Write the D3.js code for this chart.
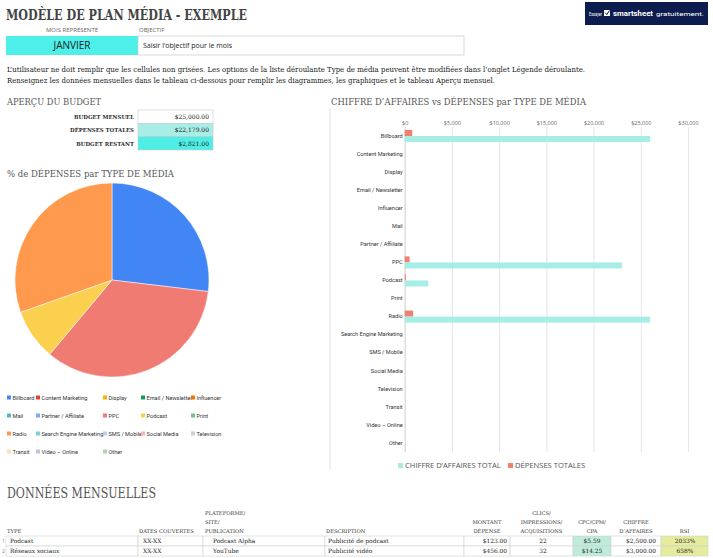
<!DOCTYPE html>
<html>
<head>
<meta charset="utf-8">
<script src="https://cdn.jsdelivr.net/npm/d3@7"></script>
<style>
  body { margin: 0; background: #fff; }
  svg { display: block; }
  .serif { font-family: "DejaVu Serif", "Liberation Serif", serif; }
  .sans { font-family: "Open Sans", "Noto Sans", sans-serif; }
  .small { font-family: Roboto, "Noto Sans", sans-serif; }
</style>
</head>
<body>
<svg id="page" width="713" height="558"></svg>
<script>
// ---- data ----
var mediaTypes = ["Billboard", "Content Marketing", "Display", "Email / Newsletter", "Influencer",
  "Mail", "Partner / Affiliate", "PPC", "Podcast", "Print", "Radio", "Search Engine Marketing",
  "SMS / Mobile", "Social Media", "Television", "Transit", "Video \u2013 Online", "Other"];
var mediaColors = ["#4285F4", "#DB4437", "#F4B400", "#0F9D58", "#FF6D01",
  "#46BDC6", "#7BAAF7", "#F07B72", "#FCD04F", "#71C287", "#FF994D", "#7ED1D7",
  "#B3CEFB", "#F7B4AE", "#CFCFCF", "#FDDCB8", "#B8C5E2", "#A9D6AE"];
var revenueTotal = [26000, 0, 0, 0, 0, 0, 0, 23000, 2500, 0, 26000, 0, 0, 0, 0, 0, 0, 0];
var spendTotal = [800, 0, 0, 0, 0, 0, 0, 520, 123, 0, 900, 0, 0, 0, 0, 0, 0, 0];
var pieTypes = ["Billboard", "PPC", "Podcast", "Radio"];
var pieShare = [26.9, 34.2, 8.5, 30.4];
var xTicks = [0, 5000, 10000, 15000, 20000, 25000, 30000];

var budgetLabels = ["BUDGET MENSUEL", "D\u00c9PENSES TOTALES", "BUDGET RESTANT"];
var budgetValues = ["$25,000.00", "$22,179.00", "$2,821.00"];
var budgetFills = ["#ffffff", "#A8EEE6", "#4DEEE6"];

var tableType = ["Podcast", "R\u00e9seaux sociaux"];
var tableDates = ["XX-XX", "XX-XX"];
var tablePlatform = ["Podcast Alpha", "YouTube"];
var tableDesc = ["Publicit\u00e9 de podcast", "Publicit\u00e9 vid\u00e9o"];
var tableSpent = ["$123.00", "$456.00"];
var tableClicks = ["22", "32"];
var tableCpc = ["$5.59", "$14.25"];
var tableRevenue = ["$2,500.00", "$3,000.00"];
var tableRoi = ["2033%", "658%"];

var svg = d3.select("#page");

// ---- header ----
svg.append("text").attr("class", "serif").attr("x", 6).attr("y", 20)
  .attr("font-size", 14).attr("font-weight", "bold").attr("fill", "#444")
  .attr("textLength", 241).attr("lengthAdjust", "spacingAndGlyphs")
  .text("MOD\u00c8LE DE PLAN M\u00c9DIA - EXEMPLE");

var logo = svg.append("g");
logo.append("rect").attr("x", 585).attr("y", 2).attr("width", 123).attr("height", 23).attr("fill", "#0C1C4E");
logo.append("text").attr("class", "small").attr("x", 589).attr("y", 15.5).attr("font-size", 5.5).attr("fill", "#fff")
  .attr("textLength", 13).attr("lengthAdjust", "spacingAndGlyphs").text("Essayer");
logo.append("rect").attr("x", 604).attr("y", 10).attr("width", 6).attr("height", 6).attr("fill", "#fff");
logo.append("path").attr("d", "M605.3,12.8 L606.8,14.6 L609.5,10.5").attr("stroke", "#0C1C4E").attr("stroke-width", 1).attr("fill", "none");
logo.append("text").attr("class", "small").attr("x", 613).attr("y", 16).attr("font-size", 8).attr("font-weight", "bold").attr("fill", "#fff")
  .attr("textLength", 40).attr("lengthAdjust", "spacingAndGlyphs").text("smartsheet");
logo.append("text").attr("class", "small").attr("x", 656).attr("y", 15.5).attr("font-size", 5.5).attr("fill", "#fff")
  .attr("textLength", 48).attr("lengthAdjust", "spacingAndGlyphs").text("gratuitement.");

svg.append("text").attr("class", "sans").attr("x", 72).attr("y", 32).attr("text-anchor", "middle")
  .attr("font-size", 6).attr("fill", "#666").text("MOIS REPR\u00c9SENT\u00c9");
svg.append("text").attr("class", "sans").attr("x", 139).attr("y", 32)
  .attr("font-size", 6).attr("fill", "#666").text("OBJECTIF");
svg.append("rect").attr("x", 6).attr("y", 36).attr("width", 132).attr("height", 19).attr("fill", "#4DF0E8");
svg.append("text").attr("class", "sans").attr("x", 72).attr("y", 49).attr("text-anchor", "middle")
  .attr("font-size", 10).attr("fill", "#222").text("JANVIER");
svg.append("rect").attr("x", 138).attr("y", 36).attr("width", 326).attr("height", 19)
  .attr("fill", "#fff").attr("stroke", "#c8c8c8").attr("stroke-width", 0.7);
svg.append("text").attr("class", "sans").attr("x", 143).attr("y", 48)
  .attr("font-size", 7).attr("fill", "#222").text("Saisir l\u2019objectif pour le mois");

svg.append("text").attr("class", "serif").attr("x", 7).attr("y", 72).attr("font-size", 8).attr("fill", "#222")
  .attr("textLength", 578).attr("lengthAdjust", "spacingAndGlyphs")
  .text("L\u2019utilisateur ne doit remplir que les cellules non gris\u00e9es. Les options de la liste d\u00e9roulante Type de m\u00e9dia peuvent \u00eatre modifi\u00e9es dans l\u2019onglet L\u00e9gende d\u00e9roulante.");
svg.append("text").attr("class", "serif").attr("x", 7).attr("y", 83).attr("font-size", 8).attr("fill", "#222")
  .attr("textLength", 488).attr("lengthAdjust", "spacingAndGlyphs")
  .text("Renseignez les donn\u00e9es mensuelles dans le tableau ci-dessous pour remplir les diagrammes, les graphiques et le tableau Aper\u00e7u mensuel.");

// ---- budget overview ----
svg.append("text").attr("class", "serif").attr("x", 7).attr("y", 105).attr("font-size", 10).attr("fill", "#555")
  .attr("textLength", 94).attr("lengthAdjust", "spacingAndGlyphs").text("APER\u00c7U DU BUDGET");

var budgetY = d3.scaleBand().domain(budgetLabels).range([110, 150]);
var brow = svg.append("g").selectAll("g").data(budgetLabels).enter().append("g");
brow.append("rect").attr("x", 138).attr("y", function(d) { return budgetY(d); })
  .attr("width", 75).attr("height", budgetY.bandwidth())
  .attr("fill", function(d, i) { return budgetFills[i]; })
  .attr("stroke", "#c8c8c8").attr("stroke-width", 0.6);
brow.append("text").attr("class", "serif").attr("x", 134)
  .attr("y", function(d) { return budgetY(d) + budgetY.bandwidth() / 2 + 2.2; })
  .attr("text-anchor", "end").attr("font-size", 5.4).attr("font-weight", "bold").attr("fill", "#333")
  .text(function(d) { return d; });
brow.append("text").attr("class", "serif").attr("x", 209)
  .attr("y", function(d) { return budgetY(d) + budgetY.bandwidth() / 2 + 2.2; })
  .attr("text-anchor", "end").attr("font-size", 6).attr("fill", "#222")
  .text(function(d, i) { return budgetValues[i]; });

// ---- pie ----
svg.append("text").attr("class", "serif").attr("x", 7).attr("y", 177).attr("font-size", 9.5).attr("fill", "#555")
  .attr("textLength", 167).attr("lengthAdjust", "spacingAndGlyphs").text("% de D\u00c9PENSES par TYPE DE M\u00c9DIA");

var pieData = d3.pie().sort(null)(pieShare);
var arc = d3.arc().innerRadius(0).outerRadius(97);
var colorOf = d3.scaleOrdinal(mediaTypes, mediaColors);
svg.append("g").attr("transform", "translate(112,280)")
  .selectAll("path").data(pieData).enter().append("path")
  .attr("d", arc)
  .attr("fill", function(d, i) { return colorOf(pieTypes[i]); })
  .attr("stroke", "#fff").attr("stroke-width", 0.5);

var legCols = [7, 36, 103, 141, 191];
var leg = svg.append("g").selectAll("g").data(mediaTypes).enter().append("g")
  .attr("transform", function(d, i) { return "translate(" + legCols[i % 5] + "," + (398 + Math.floor(i / 5) * 18) + ")"; });
leg.append("rect").attr("x", 0).attr("y", -2.5).attr("width", 4).attr("height", 4)
  .attr("fill", function(d) { return colorOf(d); });
leg.append("text").attr("class", "small").attr("x", 5.5).attr("y", 1.8).attr("font-size", 5.6).attr("fill", "#333")
  .text(function(d) { return d; });

// ---- bar chart ----
svg.append("line").attr("x1", 330).attr("x2", 330).attr("y1", 108).attr("y2", 470).attr("stroke", "#e2e2e2").attr("stroke-width", 1);
svg.append("text").attr("class", "serif").attr("x", 331).attr("y", 105).attr("font-size", 10).attr("fill", "#555")
  .attr("textLength", 255).attr("lengthAdjust", "spacingAndGlyphs").text("CHIFFRE D\u2019AFFAIRES vs D\u00c9PENSES par TYPE DE M\u00c9DIA");

var x = d3.scaleLinear().domain([0, 30000]).range([404.7, 688]);
var y = d3.scaleBand().domain(mediaTypes).range([127, 452]);
var ySub = d3.scaleBand().domain(["spend", "revenue"]).range([0, y.bandwidth()]).paddingOuter(0.5);

var xAxis = svg.append("g").attr("transform", "translate(0,127)")
  .call(d3.axisTop(x).tickValues(xTicks).tickSize(-(452 - 127)).tickFormat(function(d) { return "$" + d3.format(",")(d); }));
xAxis.select(".domain").remove();
xAxis.selectAll(".tick line").attr("stroke", "#e6e6e6");
xAxis.selectAll(".tick text").attr("class", "sans").attr("font-size", 5.5).attr("fill", "#666").attr("dy", "-0.1em").attr("y", -1);

var yAxis = svg.append("g").attr("transform", "translate(404.7,0)")
  .call(d3.axisLeft(y).tickSize(0).tickPadding(2));
yAxis.select(".domain").attr("stroke", "#d8d8d8");
yAxis.selectAll(".tick text").attr("class", "small").attr("font-size", 5.6).attr("fill", "#333");

var bars = svg.append("g");
bars.selectAll("rect.spend").data(spendTotal).enter().append("rect").attr("class", "spend")
  .attr("x", x(0)).attr("y", function(d, i) { return y(mediaTypes[i]) + ySub("spend"); })
  .attr("width", function(d) { return x(d) - x(0); }).attr("height", ySub.bandwidth())
  .attr("fill", "#F1806F");
bars.selectAll("rect.rev").data(revenueTotal).enter().append("rect").attr("class", "rev")
  .attr("x", x(0)).attr("y", function(d, i) { return y(mediaTypes[i]) + ySub("revenue"); })
  .attr("width", function(d) { return x(d) - x(0); }).attr("height", ySub.bandwidth())
  .attr("fill", "#A6EDE5");

var barLeg = [["CHIFFRE D\u2019AFFAIRES TOTAL", "#A6EDE5", 398], ["D\u00c9PENSES TOTALES", "#F1806F", 508]];
var bl = svg.append("g").selectAll("g").data(barLeg).enter().append("g")
  .attr("transform", function(d) { return "translate(" + d[2] + ",466)"; });
bl.append("rect").attr("x", 0).attr("y", -3).attr("width", 5).attr("height", 5).attr("fill", function(d) { return d[1]; });
bl.append("text").attr("class", "sans").attr("x", 7).attr("y", 2).attr("font-size", 7.6).attr("fill", "#555")
  .text(function(d) { return d[0]; });

// ---- monthly data table ----
svg.append("text").attr("class", "serif").attr("x", 7).attr("y", 498).attr("font-size", 14).attr("fill", "#555")
  .attr("textLength", 149).attr("lengthAdjust", "spacingAndGlyphs").text("DONN\u00c9ES MENSUELLES");

var cols = [
  { x0: 6, x1: 138, head: ["TYPE"], anchor: "start", hx: 7, tx: 10, vals: tableType },
  { x0: 138, x1: 203, head: ["DATES COUVERTES"], anchor: "start", hx: 139, tx: 143, vals: tableDates },
  { x0: 203, x1: 325, head: ["PLATEFORME/", "SITE/", "PUBLICATION"], anchor: "start", hx: 205, tx: 213, vals: tablePlatform },
  { x0: 325, x1: 464, head: ["DESCRIPTION"], anchor: "start", hx: 326, tx: 328, vals: tableDesc },
  { x0: 464, x1: 510, head: ["MONTANT", "D\u00c9PENS\u00c9"], anchor: "end", tx: 507, vals: tableSpent },
  { x0: 510, x1: 573, head: ["CLICS/", "IMPRESSIONS/", "ACQUISITIONS"], anchor: "middle", tx: 543, vals: tableClicks },
  { x0: 573, x1: 611, head: ["CPC/CPM/", "CPA"], anchor: "middle", tx: 592, vals: tableCpc, fill: "#BFEBDA" },
  { x0: 611, x1: 661, head: ["CHIFFRE", "D\u2019AFFAIRES"], anchor: "end", tx: 656, vals: tableRevenue },
  { x0: 661, x1: 708, head: ["RSI"], anchor: "middle", tx: 685, vals: tableRoi, fill: "#E6EC9E" }
];
var rowY = d3.scaleBand().domain([0, 1]).range([536, 556]);

cols.forEach(function(c) {
  var hx = c.anchor === "start" ? c.hx : (c.x0 + c.x1) / 2;
  var ha = c.anchor === "start" ? "start" : "middle";
  c.head.forEach(function(h, k) {
    svg.append("text").attr("class", "serif").attr("x", hx).attr("y", 533 - (c.head.length - 1 - k) * 9)
      .attr("text-anchor", ha).attr("font-size", 5.2).attr("fill", "#333").text(h);
  });
  c.vals.forEach(function(v, r) {
    svg.append("rect").attr("x", c.x0).attr("y", rowY(r)).attr("width", c.x1 - c.x0).attr("height", rowY.bandwidth())
      .attr("fill", c.fill || "#fff").attr("stroke", "#cfcfcf").attr("stroke-width", 0.6);
    svg.append("text").attr("class", "serif").attr("x", c.tx).attr("y", rowY(r) + rowY.bandwidth() / 2 + 2.3)
      .attr("text-anchor", c.anchor).attr("font-size", 5.9).attr("fill", "#222").text(v);
  });
});
[0, 1].forEach(function(r) {
  svg.append("text").attr("class", "sans").attr("x", 2).attr("y", rowY(r) + rowY.bandwidth() / 2 + 2)
    .attr("font-size", 5).attr("fill", "#888").text(r + 1);
});
</script>
</body>
</html>
